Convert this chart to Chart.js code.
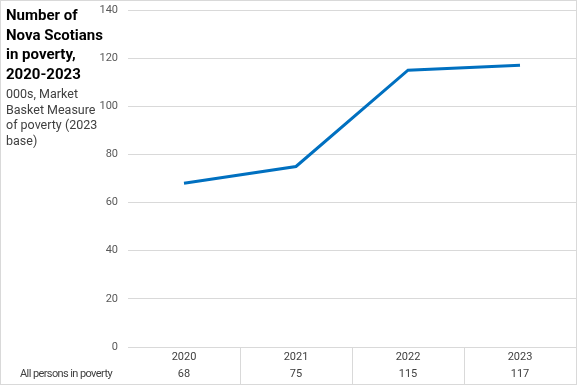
<!DOCTYPE html>
<html>
<head>
<meta charset="utf-8">
<script src="https://cdn.jsdelivr.net/npm/chart.js@4"></script>
<style>
  body { margin: 0; background: #fff; }
  #wrap { position: relative; width: 577px; height: 385px; }
  #title {
    position: absolute; left: 6px; top: 6px; width: 115px; white-space: nowrap;
    font-family: Roboto, sans-serif; font-weight: bold; font-size: 15px;
    line-height: 19.7px; color: #000;
  }
  #sub {
    position: absolute; left: 6px; top: 86px; width: 98px;
    font-family: Roboto, sans-serif; font-size: 12.5px; line-height: 15.7px; color: #404040;
  }
</style>
</head>
<body>
<div id="wrap">
  <canvas id="chart" width="577" height="385"></canvas>
  <div id="title">Number of<br>Nova Scotians<br>in poverty,<br>2020-2023</div>
  <div id="sub">000s, Market Basket Measure of poverty (2023 base)</div>
</div>
<script>
// years on the x axis
const years = ['2020', '2021', '2022', '2023'];
// all persons in poverty, thousands
const persons = [68, 75, 115, 117];
const seriesName = 'All persons in poverty';
const yTicks = { min: 0, max: 140, step: 20 };

const gridColor = '#d9d9d9';
const textColor = '#404040';

// data table under the plot + outer border
const tablePlugin = {
    id: 'dataTable',
    afterDraw(chart) {
        const ctx = chart.ctx;
        const area = chart.chartArea;
        const x = chart.scales.x;
        const bottom = chart.height;
        ctx.save();
        ctx.strokeStyle = gridColor;
        ctx.lineWidth = 1;
        // dividers between categories
        for (let i = 1; i < years.length; i++) {
            const bx = Math.round((x.getPixelForValue(i - 1) + x.getPixelForValue(i)) / 2) + 0.5;
            ctx.beginPath();
            ctx.moveTo(bx, area.bottom);
            ctx.lineTo(bx, bottom);
            ctx.stroke();
        }
        // chart border
        ctx.strokeRect(0.5, 0.5, chart.width - 1, chart.height - 1);

        ctx.font = '11px Roboto, sans-serif';
        ctx.fillStyle = textColor;
        ctx.textBaseline = 'middle';
        ctx.textAlign = 'center';
        years.forEach((yr, i) => {
            const cx = x.getPixelForValue(i);
            ctx.fillText(yr, cx, area.bottom + 10);
            ctx.fillText(String(persons[i]), cx, area.bottom + 27);
        });
        ctx.textAlign = 'right';
        ctx.letterSpacing = '-0.6px';
        ctx.fillText(seriesName, area.left - 16, area.bottom + 27);
        ctx.restore();
    }
};

new Chart(document.getElementById('chart'), {
    type: 'line',
    data: {
        labels: years,
        datasets: [{
            label: seriesName,
            data: persons,
            borderColor: '#0070c0',
            borderWidth: 3,
            pointRadius: 0,
            tension: 0
        }]
    },
    options: {
        responsive: false,
        animation: false,
        layout: { padding: { top: 10, right: 1, bottom: 30, left: 0 } },
        plugins: { legend: { display: false }, tooltip: { enabled: false } },
        scales: {
            x: {
                offset: true,
                grid: { display: false },
                border: { display: false },
                ticks: { display: false }
            },
            y: {
                min: yTicks.min,
                max: yTicks.max,
                ticks: {
                    stepSize: yTicks.step,
                    padding: 10,
                    color: '#595959',
                    font: { family: 'Roboto, sans-serif', size: 11 }
                },
                grid: { color: gridColor, drawTicks: false },
                border: { display: false },
                afterFit(scale) {
                    scale.width = 128;
                    scale.paddingTop = 0;
                    scale.paddingBottom = 0;
                }
            }
        }
    },
    plugins: [tablePlugin]
});
</script>
</body>
</html>
